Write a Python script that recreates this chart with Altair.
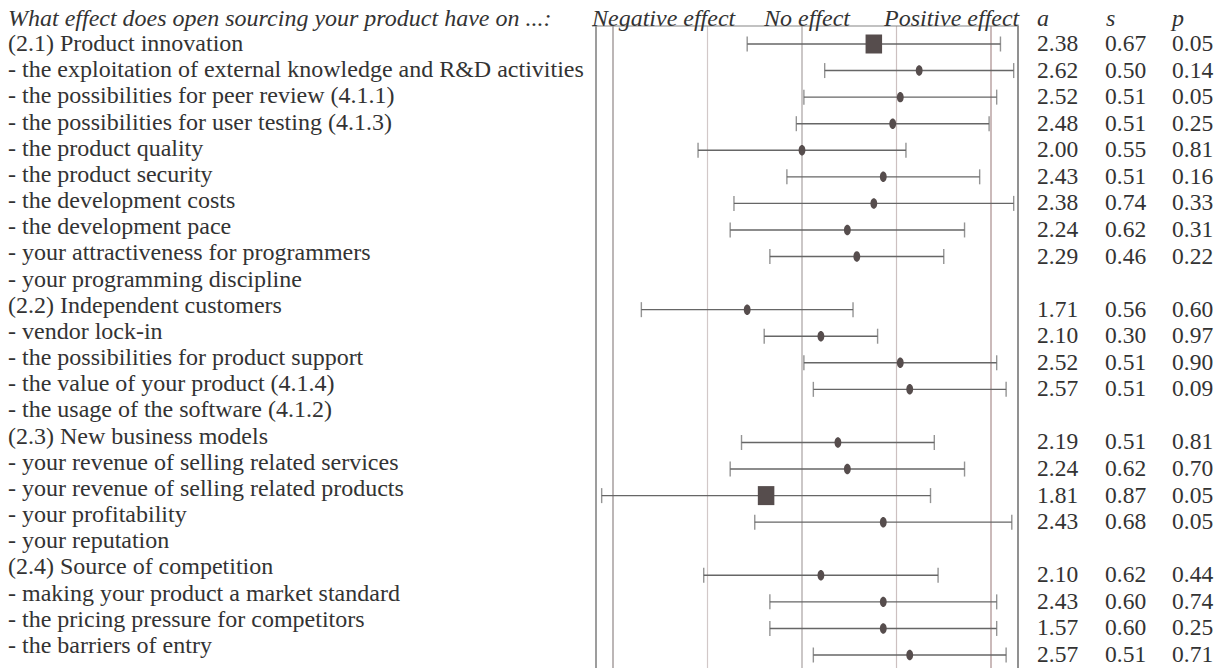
import altair as alt
import pandas as pd

# ---------------- data ----------------
labels = [
    "(2.1) Product innovation",
    "- the exploitation of external knowledge and R&D activities",
    "- the possibilities for peer review (4.1.1)",
    "- the possibilities for user testing (4.1.3)",
    "- the product quality",
    "- the product security",
    "- the development costs",
    "- the development pace",
    "- your attractiveness for programmers",
    "- your programming discipline",
    "(2.2) Independent customers",
    "- vendor lock-in",
    "- the possibilities for product support",
    "- the value of your product (4.1.4)",
    "- the usage of the software (4.1.2)",
    "(2.3) New business models",
    "- your revenue of selling related services",
    "- your revenue of selling related products",
    "- your profitability",
    "- your reputation",
    "(2.4) Source of competition",
    "- making your product a market standard",
    "- the pricing pressure for competitors",
    "- the barriers of entry",
]

# printed values (a = average, s = std. deviation, p)
a_vals = [2.38, 2.62, 2.52, 2.48, 2.00, 2.43, 2.38, 2.24, 2.29, None,
          1.71, 2.10, 2.52, 2.57, None, 2.19, 2.24, 1.81, 2.43, None,
          2.10, 2.43, 1.57, 2.57]
s_vals = [0.67, 0.50, 0.51, 0.51, 0.55, 0.51, 0.74, 0.62, 0.46, None,
          0.56, 0.30, 0.51, 0.51, None, 0.51, 0.62, 0.87, 0.68, None,
          0.62, 0.60, 0.60, 0.51]
p_vals = [0.05, 0.14, 0.05, 0.25, 0.81, 0.16, 0.33, 0.31, 0.22, None,
          0.60, 0.97, 0.90, 0.09, None, 0.81, 0.70, 0.05, 0.05, None,
          0.44, 0.74, 0.25, 0.71]
# mean positions as drawn in the plot
a_plot = [2.38, 2.62, 2.52, 2.48, 2.00, 2.43, 2.38, 2.24, 2.29, None,
          1.71, 2.10, 2.52, 2.57, None, 2.19, 2.24, 1.81, 2.43, None,
          2.10, 2.43, 2.43, 2.57]
# rows drawn with a large square marker
square_marker = [True, False, False, False, False, False, False, False, False, False,
                 False, False, False, False, False, False, False, True, False, False,
                 False, False, False, False]

grid_values = [1.0, 1.5, 2.0, 2.5, 3.0]

header_left = "What effect does open sourcing your product have on ...:"
header_effects = ["Negative effect", "No effect", "Positive effect"]
header_cols = ["a", "s", "p"]

# ---------------- tables ----------------
rows = list(range(len(labels)))
label_df = pd.DataFrame({"row": rows, "label": labels})
data_df = pd.DataFrame({
    "row": rows, "a": a_vals, "s": s_vals, "p": p_vals,
    "m": a_plot, "sq": square_marker,
}).dropna(subset=["a"])
grid_df = pd.DataFrame({"v": grid_values})

# ---------------- styling ----------------
FONT = "Liberation Serif"
TXT = "#333333"
FS = 24
FSN = 23.5
X = alt.Scale(domain=[1, 3], range=[605, 983], zero=False, nice=False)
YD = alt.Scale(domain=[0, 23], range=[36, 647], zero=False, nice=False)
YL = alt.Scale(domain=[0, 23], range=[36, 638], zero=False, nice=False)
grid_colors = ["#8f8585", "#d2c8c8", "#a8a2a2", "#ccc0c0", "#a88c8c"]
ELLIPSE = "M0,-1C0.36,-1 0.65,-0.55 0.65,0C0.65,0.55 0.36,1 0,1C-0.36,1 -0.65,0.55 -0.65,0C-0.65,-0.55 -0.36,-1 0,-1Z"
SQUARE = "M-0.87,-1H0.87V1H-0.87Z"
one = alt.Data(values=[{}])
TOP, BOTTOM = 18, 660

# ---------------- layers ----------------
grid = alt.Chart(grid_df).mark_rule(strokeWidth=1.2).encode(
    x=alt.X("v:Q", scale=X, axis=None),
    y=alt.value(TOP), y2=alt.value(BOTTOM),
    color=alt.Color("v:O", scale=alt.Scale(domain=grid_values, range=grid_colors), legend=None),
)

box_left = alt.Chart(one).mark_rule(color="#858585", strokeWidth=1.6).encode(
    x=alt.value(588), y=alt.value(TOP), y2=alt.value(BOTTOM))
box_right = alt.Chart(one).mark_rule(color="#858585", strokeWidth=1.8).encode(
    x=alt.value(1010), y=alt.value(TOP), y2=alt.value(BOTTOM))
box_top = alt.Chart(one).mark_rule(color="#858585", strokeWidth=1.2).encode(
    x=alt.value(584), x2=alt.value(1011), y=alt.value(TOP))

base = alt.Chart(data_df).transform_calculate(
    lo="datum.m - datum.s", hi="datum.m + datum.s")

bars = base.mark_rule(color="#666666", strokeWidth=1.4).encode(
    x=alt.X("lo:Q", scale=X, axis=None), x2="hi:Q",
    y=alt.Y("row:Q", scale=YD, axis=None))

caps = base.transform_fold(["lo", "hi"], as_=["end", "xv"]).mark_tick(
    orient="vertical", size=15, thickness=1.4, color="#666666").encode(
    x=alt.X("xv:Q", scale=X, axis=None),
    y=alt.Y("row:Q", scale=YD, axis=None))

dots = base.transform_filter("!datum.sq").mark_point(
    filled=True, shape=ELLIPSE, size=110, color="#564d4d", opacity=1).encode(
    x=alt.X("m:Q", scale=X, axis=None),
    y=alt.Y("row:Q", scale=YD, axis=None))

squares = base.transform_filter("datum.sq").mark_point(
    filled=True, shape=SQUARE, size=361, color="#564d4d", opacity=1).encode(
    x=alt.X("m:Q", scale=X, axis=None),
    y=alt.Y("row:Q", scale=YD, axis=None))


def num_col(field, xpos):
    return alt.Chart(data_df).mark_text(
        align="left", baseline="middle", font=FONT, fontSize=FSN, color=TXT).encode(
        x=alt.value(xpos),
        y=alt.Y("row:Q", scale=YD, axis=None),
        text=alt.Text(f"{field}:Q", format=".2f"))


col_a = num_col("a", 1029)
col_s = num_col("s", 1097)
col_p = num_col("p", 1164)

label_layer = alt.Chart(label_df).mark_text(
    align="left", baseline="middle", font=FONT, fontSize=FS, color=TXT).encode(
    x=alt.value(0),
    y=alt.Y("row:Q", scale=YL, axis=None),
    text="label:N")


def header(text, xpos):
    return alt.Chart(one).mark_text(
        text=text, align="left", baseline="alphabetic", font=FONT, fontSize=FS,
        fontStyle="italic", color=TXT).encode(x=alt.value(xpos), y=alt.value(17.5))


headers = [
    header(header_left, 0),
    header(header_effects[0], 584),
    header(header_effects[1], 756),
    header(header_effects[2], 876),
    header(header_cols[0], 1029),
    header(header_cols[1], 1098),
    header(header_cols[2], 1164),
]

chart = alt.layer(
    grid, box_left, box_right, box_top, bars, caps, dots, squares,
    col_a, col_s, col_p, label_layer, *headers
).resolve_scale(y="independent").properties(
    width=1207, height=660, padding=0,
    autosize=alt.AutoSizeParams(type="none"),
).configure_view(stroke=None)

chart.save("out.html", embed_options={"renderer": "svg", "actions": False})
